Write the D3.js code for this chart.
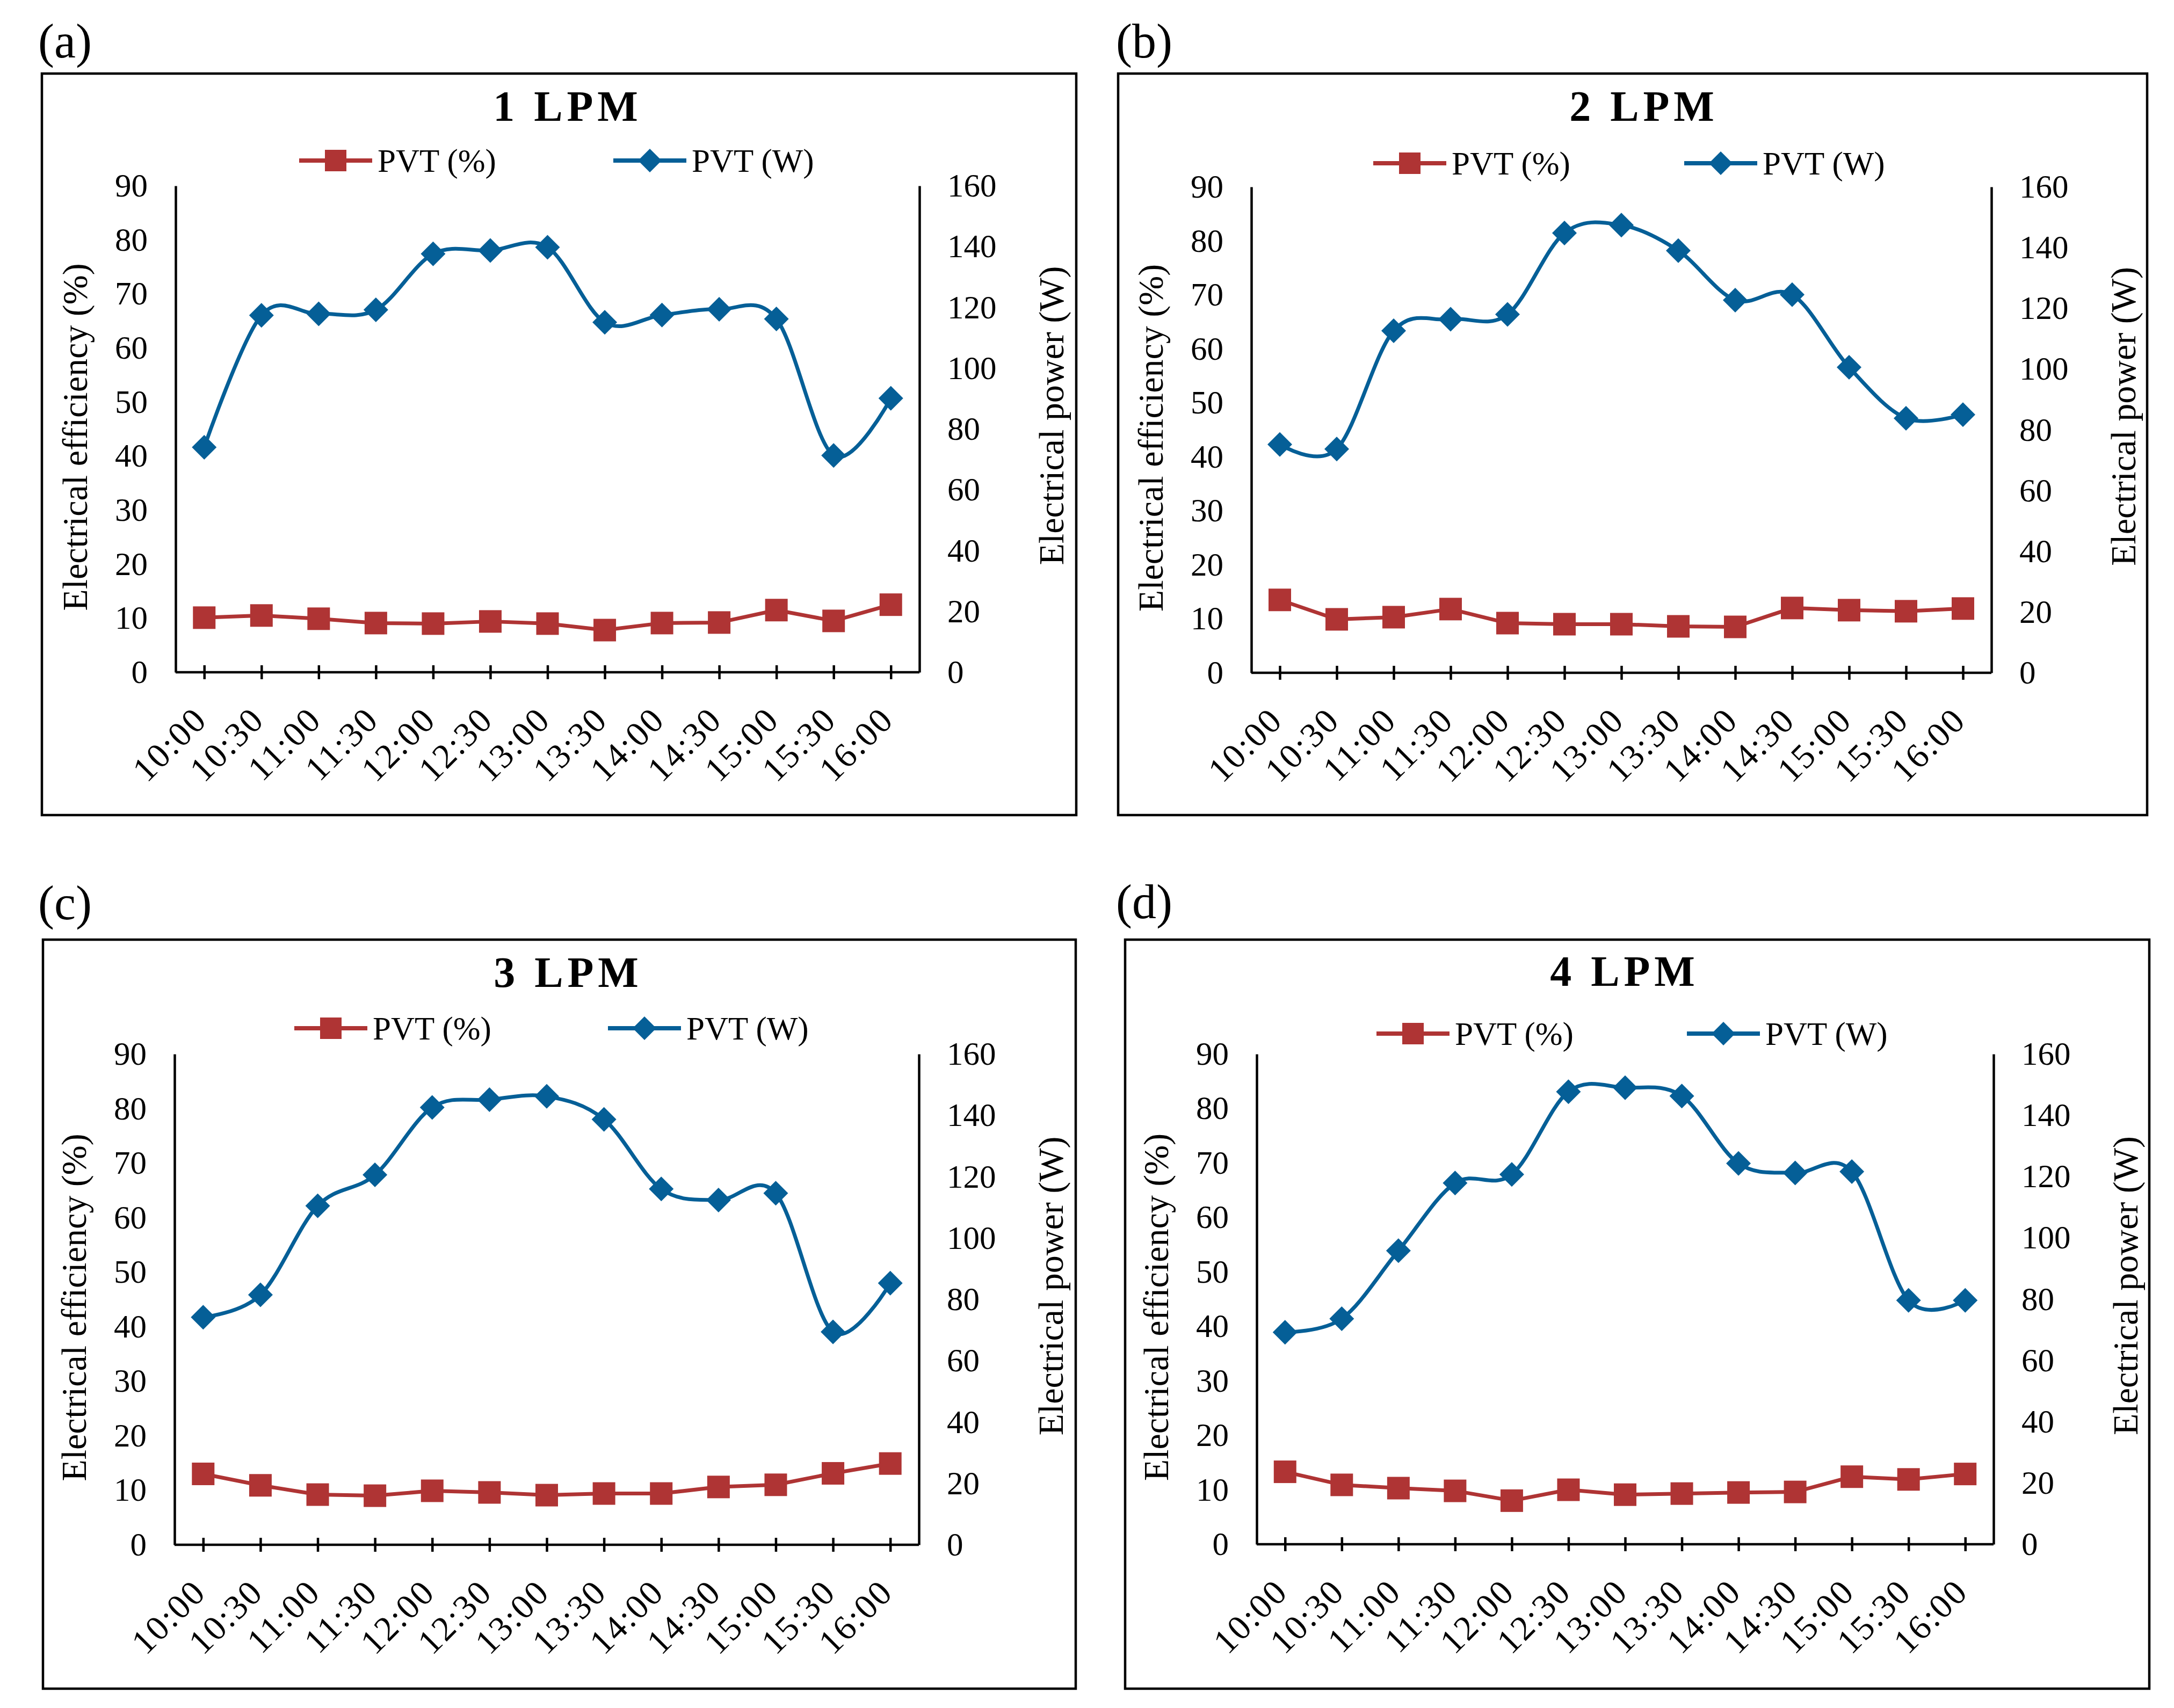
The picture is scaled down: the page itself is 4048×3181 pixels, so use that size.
<!DOCTYPE html>
<html><head><meta charset="utf-8">
<script src="https://cdn.jsdelivr.net/npm/d3@7"></script>
<style>body{margin:0;background:#fff}</style>
</head><body>
<svg id="chart" width="4048" height="3181" xmlns="http://www.w3.org/2000/svg"></svg>
<script>
// ---------- data ----------
const times = ["10:00","10:30","11:00","11:30","12:00","12:30","13:00","13:30","14:00","14:30","15:00","15:30","16:00"];
const panelLetters = ["(a)","(b)","(c)","(d)"];
const panelTitles = ["1 LPM","2 LPM","3 LPM","4 LPM"];
const seriesNames = ["PVT (%)","PVT (W)"];
const effTicks = [0,10,20,30,40,50,60,70,80,90];
const powerTicks = [0,20,40,60,80,100,120,140,160];
const effTitle = "Electrical efficiency (%)";
const powerTitle = "Electrical power (W)";

const eff1 = [10.1,10.5,9.9,9.1,9.0,9.4,9.0,7.8,9.1,9.2,11.5,9.5,12.5];
const power1 = [74.0,117.4,117.9,119.2,137.6,138.7,139.8,115.1,117.5,119.4,116.2,71.3,90.1];
const eff2 = [13.5,9.9,10.3,11.8,9.2,9.0,9.0,8.6,8.5,12.0,11.6,11.4,11.9];
const power2 = [75.2,73.7,112.6,116.4,118.0,144.8,147.4,139.0,122.7,124.5,100.6,83.8,85.0];
const eff3 = [13.0,10.9,9.2,9.0,9.9,9.6,9.1,9.4,9.4,10.6,11.0,13.1,14.9];
const power3 = [74.2,81.5,110.5,120.6,142.6,145.1,146.2,138.7,116.0,112.4,114.6,69.4,85.3];
const eff4 = [13.3,10.9,10.3,9.8,8.0,10.0,9.1,9.3,9.5,9.6,12.4,11.9,12.9];
const power4 = [69.2,73.6,95.8,117.9,120.7,147.7,149.0,146.3,124.3,121.2,121.6,79.6,79.6];

const effSeries = [eff1, eff2, eff3, eff4];
const powerSeries = [power1, power2, power3, power4];

// ---------- layout / style ----------
const layout = [
  {frame:[78,137,2004,1518], plot:[327,346,1712,1252], label:[71,107], title:[1057,225], legend:[299,557,1142]},
  {frame:[2082,137,3998,1518], plot:[2330,348,3708,1253], label:[2078,107], title:[3061,225], legend:[304,2557,3136]},
  {frame:[80,1750,2003,3145], plot:[325,1963,1711,2877], label:[71,1712], title:[1058,1838], legend:[1915,548,1132]},
  {frame:[2095,1750,4002,3145], plot:[2340,1963,3712,2876], label:[2078,1710], title:[3025,1836], legend:[1925,2563,3141]}
];
const RED = "#AF3434", BLUE = "#055F97";
const FONT = "'Liberation Serif','Times New Roman',Times,serif";
const tickFont = 61, axisTitleFont = 66, legendFont = 61, titleFont = 80, letterFont = 90;
const lineW = 7, axisW = 4.5, frameW = 4.5;
const sq = 42, dia = 46;

const svg = d3.select("#chart");
svg.append("rect").attr("width",4048).attr("height",3181).attr("fill","#fff");

const diamondPath = s => `M0,${-s/2}L${s/2},0L0,${s/2}L${-s/2},0Z`;

layout.forEach((lay, i) => {
  const [fx0, fy0, fx1, fy1] = lay.frame;
  const [L, T, R, B] = lay.plot;
  const g = svg.append("g");

  // panel letter
  g.append("text").attr("x", lay.label[0]).attr("y", lay.label[1])
    .attr("font-family", FONT).attr("font-size", letterFont).text(panelLetters[i]);

  // frame
  g.append("rect").attr("x", fx0).attr("y", fy0).attr("width", fx1-fx0).attr("height", fy1-fy0)
    .attr("fill","none").attr("stroke","#000").attr("stroke-width", frameW);

  // title
  g.append("text").attr("x", lay.title[0]).attr("y", lay.title[1])
    .attr("text-anchor","middle").attr("font-family", FONT).attr("font-weight","bold")
    .attr("font-size", titleFont).attr("letter-spacing", 8).text(panelTitles[i]);

  // scales
  const x = d3.scalePoint().domain(times).range([L, R]).padding(0.5);
  const yE = d3.scaleLinear().domain([0, 90]).range([B, T]);
  const yP = d3.scaleLinear().domain([0, 160]).range([B, T]);

  // left axis
  const gl = g.append("g").attr("transform", `translate(${L},0)`)
    .call(d3.axisLeft(yE).tickValues(effTicks).tickSize(0).tickPadding(52).tickFormat(d3.format("d")));
  // right axis
  const gr = g.append("g").attr("transform", `translate(${R},0)`)
    .call(d3.axisRight(yP).tickValues(powerTicks).tickSize(0).tickPadding(52).tickFormat(d3.format("d")));
  [gl, gr].forEach(ax => {
    ax.attr("font-family", null).attr("font-size", null);
    ax.select(".domain").attr("stroke","#000").attr("stroke-width", axisW);
    ax.selectAll("text").attr("font-family", FONT).attr("font-size", tickFont).attr("fill","#000");
  });

  // bottom axis
  const gb = g.append("g").attr("transform", `translate(0,${B})`)
    .call(d3.axisBottom(x).tickSize(13).tickSizeOuter(0));
  gb.attr("font-family", null).attr("font-size", null);
  gb.select(".domain").attr("stroke","#000").attr("stroke-width", axisW)
    .attr("d", `M${L},0H${R}`);
  gb.selectAll(".tick line").attr("y1", -13).attr("y2", 13).attr("stroke","#000").attr("stroke-width", axisW);
  gb.selectAll(".tick text")
    .attr("font-family", FONT).attr("font-size", 65).attr("letter-spacing", 3).attr("fill","#000")
    .attr("text-anchor","end").attr("y", null).attr("dy", null)
    .attr("transform", "translate(8,92) rotate(-45)");

  // axis titles
  g.append("text").attr("transform", `translate(${L-165},${(T+B)/2+15}) rotate(-90)`)
    .attr("text-anchor","middle").attr("font-family", FONT).attr("font-size", axisTitleFont).text(effTitle);
  g.append("text").attr("transform", `translate(${R+268},${(T+B)/2-25}) rotate(-90)`)
    .attr("text-anchor","middle").attr("font-family", FONT).attr("font-size", axisTitleFont).text(powerTitle);

  // series data
  const effData = times.map((t, k) => ({t, v: effSeries[i][k]}));
  const powData = times.map((t, k) => ({t, v: powerSeries[i][k]}));

  g.append("path").datum(effData)
    .attr("d", d3.line().x(d => x(d.t)).y(d => yE(d.v)).curve(d3.curveLinear))
    .attr("fill","none").attr("stroke", RED).attr("stroke-width", lineW).attr("stroke-linejoin","round");
  g.selectAll(".sq").data(effData).enter().append("rect")
    .attr("x", d => x(d.t) - sq/2).attr("y", d => yE(d.v) - sq/2)
    .attr("width", sq).attr("height", sq).attr("fill", RED);

  g.append("path").datum(powData)
    .attr("d", d3.line().x(d => x(d.t)).y(d => yP(d.v)).curve(d3.curveCardinal.tension(0)))
    .attr("fill","none").attr("stroke", BLUE).attr("stroke-width", lineW).attr("stroke-linejoin","round");
  g.selectAll(".dm").data(powData).enter().append("path")
    .attr("transform", d => `translate(${x(d.t)},${yP(d.v)})`)
    .attr("d", diamondPath(dia)).attr("fill", BLUE);

  // legend
  const [ly, rx, bx] = lay.legend;
  const legLen = 136;
  const items = [
    {name: seriesNames[0], color: RED, x0: rx, marker: "square"},
    {name: seriesNames[1], color: BLUE, x0: bx, marker: "diamond"}
  ];
  items.forEach(it => {
    g.append("line").attr("x1", it.x0).attr("x2", it.x0 + legLen).attr("y1", ly).attr("y2", ly)
      .attr("stroke", it.color).attr("stroke-width", lineW + 1);
    const cx = it.x0 + legLen/2;
    if (it.marker === "square") {
      g.append("rect").attr("x", cx - 20).attr("y", ly - 20).attr("width", 40).attr("height", 40).attr("fill", it.color);
    } else {
      g.append("path").attr("transform", `translate(${cx},${ly})`).attr("d", diamondPath(44)).attr("fill", it.color);
    }
    g.append("text").attr("x", it.x0 + legLen + 10).attr("y", ly).attr("dy", "0.35em")
      .attr("font-family", FONT).attr("font-size", legendFont).text(it.name);
  });
});
</script>
</body></html>
